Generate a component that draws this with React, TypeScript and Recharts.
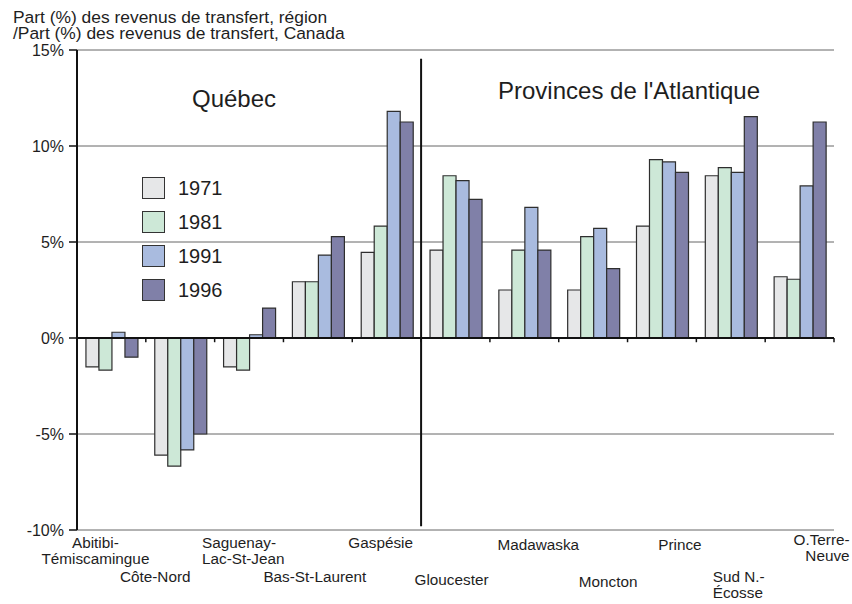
import { BarChart, Bar, XAxis, YAxis, CartesianGrid, ReferenceLine, Legend } from 'recharts'

const regions = [
  'Abitibi-\nTémiscamingue', 'Côte-Nord', 'Saguenay-\nLac-St-Jean', 'Bas-St-Laurent', 'Gaspésie',
  'Gloucester', 'Madawaska', 'Moncton', 'Prince', 'Sud N.-\nÉcosse', 'O.Terre-\nNeuve'
]
const quebecCount = 5
const years = ['1971', '1981', '1991', '1996']
const v1971 = [-1.5, -6.1, -1.5, 2.93, 4.46, 4.58, 2.5, 2.5, 5.83, 8.45, 3.19]
const v1981 = [-1.67, -6.67, -1.67, 2.93, 5.83, 8.45, 4.58, 5.28, 9.29, 8.87, 3.06]
const v1991 = [0.3, -5.83, 0.17, 4.32, 11.8, 8.2, 6.8, 5.71, 9.17, 8.63, 7.92]
const v1996 = [-1.0, -5.0, 1.56, 5.28, 11.25, 7.22, 4.58, 3.61, 8.63, 11.53, 11.25]
const yTicks = [-10, -5, 0, 5, 10, 15]
const colors = ['#e6e7e8', '#cde8d7', '#a9bbdf', '#8080a8']

const series = [v1971, v1981, v1991, v1996]
const data = regions.map((region, i) => {
  const row: Record<string, string | number> = { region }
  years.forEach((y, k) => { row[y] = series[k][i] })
  return row
})

const FONT = '"Liberation Sans", Arial, sans-serif'
const INK = '#1e1e1e'

// staggered label placement, per category
const LABEL_DX = [-16, -25, -47, -3, -6, -4, 14, 15, 18, -18, 50]
const LABEL_DY = [18, 52, 18, 52, 18, 55, 20, 57, 20, 52, 15]
const LABEL_ANCHOR = ['middle', 'middle', 'start', 'middle', 'middle', 'middle', 'middle', 'middle', 'middle', 'start', 'end']

function RegionTick(props: { x?: number; y?: number; index?: number; payload?: { value: string } }) {
  const { x = 0, y = 0, index = 0, payload } = props
  if (!payload) return null
  const lines = String(payload.value).split('\n')
  const tx = x + LABEL_DX[index]
  return (
    <text x={tx} y={y + LABEL_DY[index]} textAnchor={LABEL_ANCHOR[index] as 'start' | 'middle' | 'end'}
      fontSize={15.3} fill={INK} fontFamily={FONT}>
      {lines.map((l, i) => (
        <tspan key={i} x={tx} dy={i === 0 ? 0 : 15.5}>{l}</tspan>
      ))}
    </text>
  )
}

function YearLegend({ payload }: { payload?: Array<{ value: string; color?: string }> }) {
  if (!payload) return null
  return (
    <div style={{ fontFamily: FONT }}>
      {payload.map((p, i) => (
        <div key={p.value} style={{ display: 'flex', alignItems: 'center', height: 34 }}>
          <span style={{ width: 21, height: 20, background: p.color ?? colors[i], border: '1.5px solid #333', display: 'inline-block' }} />
          <span style={{ marginLeft: 13, fontSize: 20, color: INK }}>{p.value}</span>
        </div>
      ))}
    </div>
  )
}

export default function App() {
  const split = regions[quebecCount]
  return (
    <div style={{ position: 'absolute', top: 0, left: 0, width: 852, height: 604, background: '#fff' }}>
      <BarChart width={852} height={604} data={data} margin={{ top: 50, right: 18, left: 0, bottom: 0 }}
        barCategoryGap="13%" barGap={0}>
        <CartesianGrid vertical={false} stroke="#666" />
        <XAxis dataKey="region" interval={0} height={74} axisLine={false} tickLine={false}
          tickSize={0} tickMargin={0} tick={<RegionTick />} />
        <YAxis width={77} domain={[-10, 15]} ticks={yTicks} interval={0}
          tickFormatter={v => `${v}%`}
          tick={{ fontSize: 16, fill: INK, fontFamily: FONT }}
          tickSize={8} tickMargin={5}
          axisLine={{ stroke: '#111', strokeWidth: 2 }}
          tickLine={{ stroke: '#111', strokeWidth: 1.5 }} />
        <Legend layout="vertical" align="center" verticalAlign="middle"
          wrapperStyle={{ left: 142, top: 171, width: 'auto' }}
          content={<YearLegend />} />
        {years.map((y, k) => (
          <Bar key={y} dataKey={y} fill={colors[k]} stroke="#2e2e2e" strokeWidth={1.2} isAnimationActive={false} />
        ))}
        <ReferenceLine y={0} stroke="#111" strokeWidth={2} />
        {regions.map(r => (
          <ReferenceLine key={r} position="end" segment={[{ x: r, y: 0 }, { x: r, y: -0.22 }]}
            stroke="#111" strokeWidth={1.5} />
        ))}
        <ReferenceLine position="start" segment={[{ x: split, y: 14.55 }, { x: split, y: -9.8 }]}
          stroke="#111" strokeWidth={2} />
      </BarChart>
      <svg width={852} height={604} style={{ position: 'absolute', top: 0, left: 0, pointerEvents: 'none' }}
        fontFamily={FONT} fill={INK}>
        <text x={13} y={23} fontSize={17.4}>Part (%) des revenus de transfert, région</text>
        <text x={13} y={39} fontSize={17.4}>/Part (%) des revenus de transfert, Canada</text>
        <text x={192} y={107} fontSize={24}>Québec</text>
        <text x={498} y={99} fontSize={24}>Provinces de l'Atlantique</text>
      </svg>
    </div>
  )
}
